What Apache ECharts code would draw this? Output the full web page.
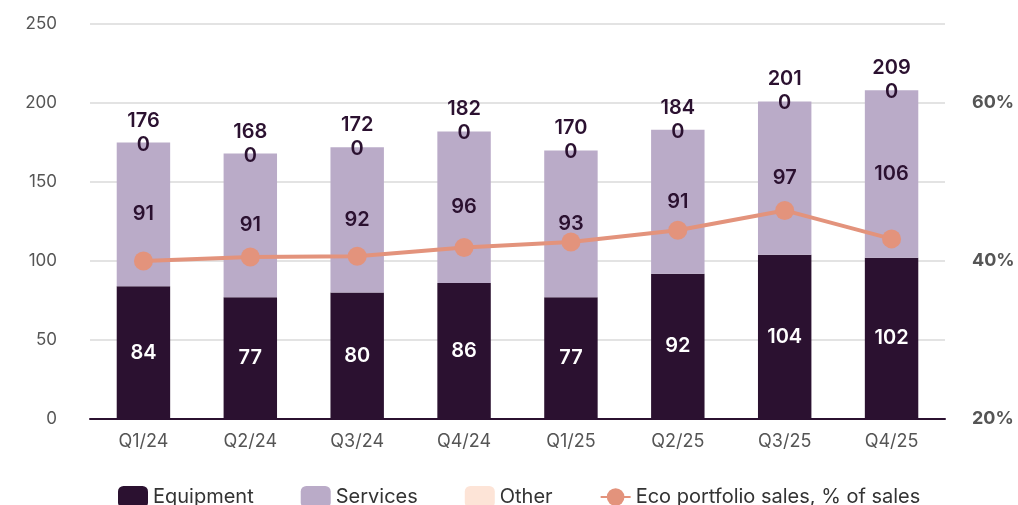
<!DOCTYPE html>
<html>
<head>
<meta charset="utf-8">
<script src="https://cdn.jsdelivr.net/npm/echarts@6/dist/echarts.min.js"></script>
<style>
  html, body { margin: 0; padding: 0; background: #fff; }
  #chart { width: 1018px; height: 505px; }
</style>
</head>
<body>
<div id="chart"></div>
<script>
var quarters = ['Q1/24', 'Q2/24', 'Q3/24', 'Q4/24', 'Q1/25', 'Q2/25', 'Q3/25', 'Q4/25'];
var equipment = [84, 77, 80, 86, 77, 92, 104, 102];
var services = [91, 91, 92, 96, 93, 91, 97, 106];
var other = [0, 0, 0, 0, 0, 0, 0, 0];
var totals = [176, 168, 172, 182, 170, 184, 201, 209];
var ecoShare = [40.0, 40.5, 40.6, 41.7, 42.4, 43.9, 46.4, 42.8];

var font = 'Inter';
var dark = '#2b1130';

var myChart = echarts.init(document.getElementById('chart'));
option = {
    backgroundColor: '#ffffff',
    textStyle: { fontFamily: font },
    legend: {
        bottom: -8,
        left: 113,
        itemWidth: 30,
        itemHeight: 22,
        itemGap: 47,
        textStyle: { fontSize: 20, color: '#333', fontFamily: font },
        data: ['Equipment', 'Services', 'Other', 'Eco portfolio sales, % of sales']
    },
    grid: { left: 90, right: 73, top: 24, bottom: 86 },
    xAxis: {
        type: 'category',
        data: quarters,
        axisLine: { lineStyle: { color: dark, width: 2 } },
        axisTick: { show: false },
        axisLabel: { color: '#555', fontSize: 18, margin: 14 }
    },
    yAxis: [
        {
            type: 'value',
            min: 0, max: 250, interval: 50,
            axisLine: { show: false },
            axisTick: { show: false },
            splitLine: { lineStyle: { color: '#e3e3e3', width: 2 } },
            axisLabel: { color: '#555', fontSize: 17, margin: 33 }
        },
        {
            type: 'value',
            min: 20, max: 70, interval: 20,
            axisLine: { show: false },
            axisTick: { show: false },
            splitLine: { show: false },
            axisLabel: {
                color: '#555', fontSize: 18, fontWeight: 'bold', margin: 27,
                formatter: function (v) { return v === 70 ? '' : v + '%'; }
            }
        }
    ],
    series: [
        {
            name: 'Equipment',
            type: 'bar',
            stack: 'sales',
            barWidth: '50%',
            itemStyle: { color: dark },
            label: { show: true, position: 'inside', color: '#fff', fontSize: 20, fontWeight: 600 },
            data: equipment
        },
        {
            name: 'Services',
            type: 'bar',
            stack: 'sales',
            itemStyle: { color: '#baabc8' },
            label: { show: true, position: 'inside', color: dark, fontSize: 20, fontWeight: 600 },
            data: services
        },
        {
            name: 'Other',
            type: 'bar',
            stack: 'sales',
            itemStyle: { color: '#fde4d7' },
            label: {
                show: true,
                position: 'inside',
                offset: [0, -10],
                color: dark,
                fontSize: 20,
                fontWeight: 600,
                lineHeight: 24,
                formatter: function (p) { return totals[p.dataIndex] + '\n' + p.value; }
            },
            data: other
        },
        {
            name: 'Eco portfolio sales, % of sales',
            type: 'line',
            yAxisIndex: 1,
            symbol: 'circle',
            symbolSize: 19,
            itemStyle: { color: '#e3937c' },
            lineStyle: { color: '#e3937c', width: 4 },
            z: 5,
            data: ecoShare
        }
    ]
};
myChart.setOption(option);
</script>
</body>
</html>
